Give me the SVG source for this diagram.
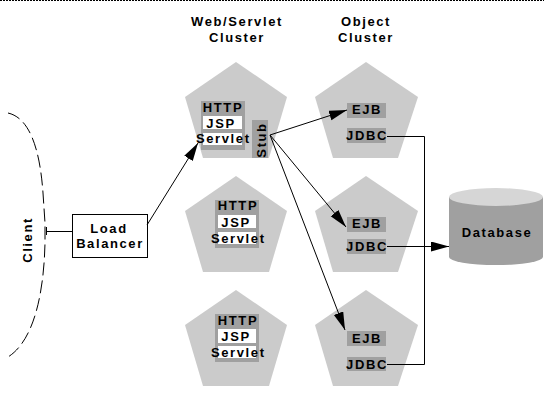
<svg xmlns="http://www.w3.org/2000/svg" width="544" height="413" viewBox="0 0 544 413">
<style>
text{font-family:"Liberation Sans",Arial,sans-serif;font-weight:bold;font-size:13px;letter-spacing:1.6px;fill:#000}
.pent{fill:#cbcbcb}
.gbox{fill:#a0a0a0}
.wbox{fill:#fff}
.conn{stroke:#000;stroke-width:1;fill:none}
.mid{text-anchor:middle}
</style>
<defs>
<marker id="ah" markerUnits="userSpaceOnUse" markerWidth="19" markerHeight="11" refX="18" refY="5" orient="auto">
<path d="M0,0 L18,5 L0,10 z" fill="#000"/>
</marker>
</defs>
<rect width="544" height="413" fill="#fff"/>
<line x1="0" y1="0.5" x2="544" y2="0.5" stroke="#000" stroke-dasharray="2,1"/>

<g id="title-web">
<text class="mid" x="237" y="26">Web/Servlet</text>
<text class="mid" x="237" y="42">Cluster</text>
</g>
<g id="title-object">
<text class="mid" x="366" y="26">Object</text>
<text class="mid" x="366" y="42">Cluster</text>
</g>

<g id="client">
<path d="M8,113 C30,118 40,150 43,193 L45,223 L45,243 C44,290 35,340 8,357" fill="none" stroke="#000" stroke-dasharray="13,5"/>
<line x1="46.5" y1="227" x2="46.5" y2="235" stroke="#000"/>
<text class="mid" transform="translate(32,240) rotate(-90)">Client</text>
</g>

<g id="load-balancer">
<rect x="72.5" y="214.5" width="75" height="43" fill="#fff" stroke="#000"/>
<text class="mid" x="109" y="233">Load</text>
<text class="mid" x="110" y="248">Balancer</text>
</g>

<g id="web1">
<polygon class="pent" points="236,62 287,97 269,158 203,158 185,97"/>
<rect class="gbox" x="201" y="101" width="44" height="49"/>
<rect class="wbox" x="203" y="116" width="39" height="13"/>
<rect class="wbox" x="203" y="133" width="39" height="12"/>
<text class="mid" x="223" y="112">HTTP</text>
<text class="mid" x="221" y="128">JSP</text>
<text x="196" y="143">Servlet</text>
<rect class="gbox" x="252" y="120" width="16" height="38"/>
<text class="mid" transform="translate(266,140) rotate(-90)">Stub</text>
</g>

<g id="web2">
<polygon class="pent" points="236,176 287,211 269,272 203,272 185,211"/>
<rect class="gbox" x="215" y="200" width="44" height="48"/>
<rect class="wbox" x="218" y="215" width="38" height="13"/>
<rect class="wbox" x="218" y="232" width="38" height="12"/>
<text class="mid" x="238" y="210">HTTP</text>
<text class="mid" x="236" y="227">JSP</text>
<text x="211" y="243">Servlet</text>
</g>

<g id="web3">
<polygon class="pent" points="236,290 287,325 269,386 203,386 185,325"/>
<rect class="gbox" x="215" y="314" width="44" height="48"/>
<rect class="wbox" x="218" y="329" width="38" height="14"/>
<rect class="wbox" x="218" y="346" width="38" height="12"/>
<text class="mid" x="238" y="325">HTTP</text>
<text class="mid" x="236" y="341">JSP</text>
<text x="211" y="357">Servlet</text>
</g>

<g id="obj1">
<polygon class="pent" points="366,62 418,97 398,158 333,158 315,97"/>
<rect class="gbox" x="347" y="103" width="39" height="15"/>
<rect class="gbox" x="347" y="128" width="39" height="15"/>
<text class="mid" x="367" y="114">EJB</text>
<text class="mid" x="367" y="140">JDBC</text>
</g>

<g id="obj2">
<polygon class="pent" points="366,176 418,211 398,272 333,272 315,211"/>
<rect class="gbox" x="347" y="217" width="39" height="15"/>
<rect class="gbox" x="347" y="239" width="39" height="15"/>
<text class="mid" x="367" y="228">EJB</text>
<text class="mid" x="367" y="251">JDBC</text>
</g>

<g id="obj3">
<polygon class="pent" points="366,290 418,325 398,386 333,386 315,325"/>
<rect class="gbox" x="347" y="331" width="39" height="15"/>
<rect class="gbox" x="347" y="357" width="39" height="14"/>
<text class="mid" x="367" y="343">EJB</text>
<text class="mid" x="367" y="369">JDBC</text>
</g>

<g id="database">
<path d="M449,197 L449,257 A47,8 0 0 0 543,257 L543,197 Z" fill="#a0a0a0"/>
<ellipse cx="496" cy="197" rx="47" ry="9" fill="#d6d6d6"/>
<text class="mid" x="497" y="237">Database</text>
</g>

<g id="connectors">
<line class="conn" x1="46" y1="231.5" x2="72" y2="231.5"/>
<line class="conn" x1="147" y1="225" x2="198" y2="143" marker-end="url(#ah)"/>
<line class="conn" x1="270" y1="135" x2="347" y2="110" marker-end="url(#ah)"/>
<line class="conn" x1="270" y1="135" x2="346" y2="227" marker-end="url(#ah)"/>
<line class="conn" x1="270" y1="135" x2="345" y2="330" marker-end="url(#ah)"/>
<polyline class="conn" points="387,136.5 424.5,136.5 424.5,364.5 387,364.5"/>
<line class="conn" x1="387" y1="246.5" x2="449" y2="246.5" marker-end="url(#ah)"/>
</g>
</svg>
